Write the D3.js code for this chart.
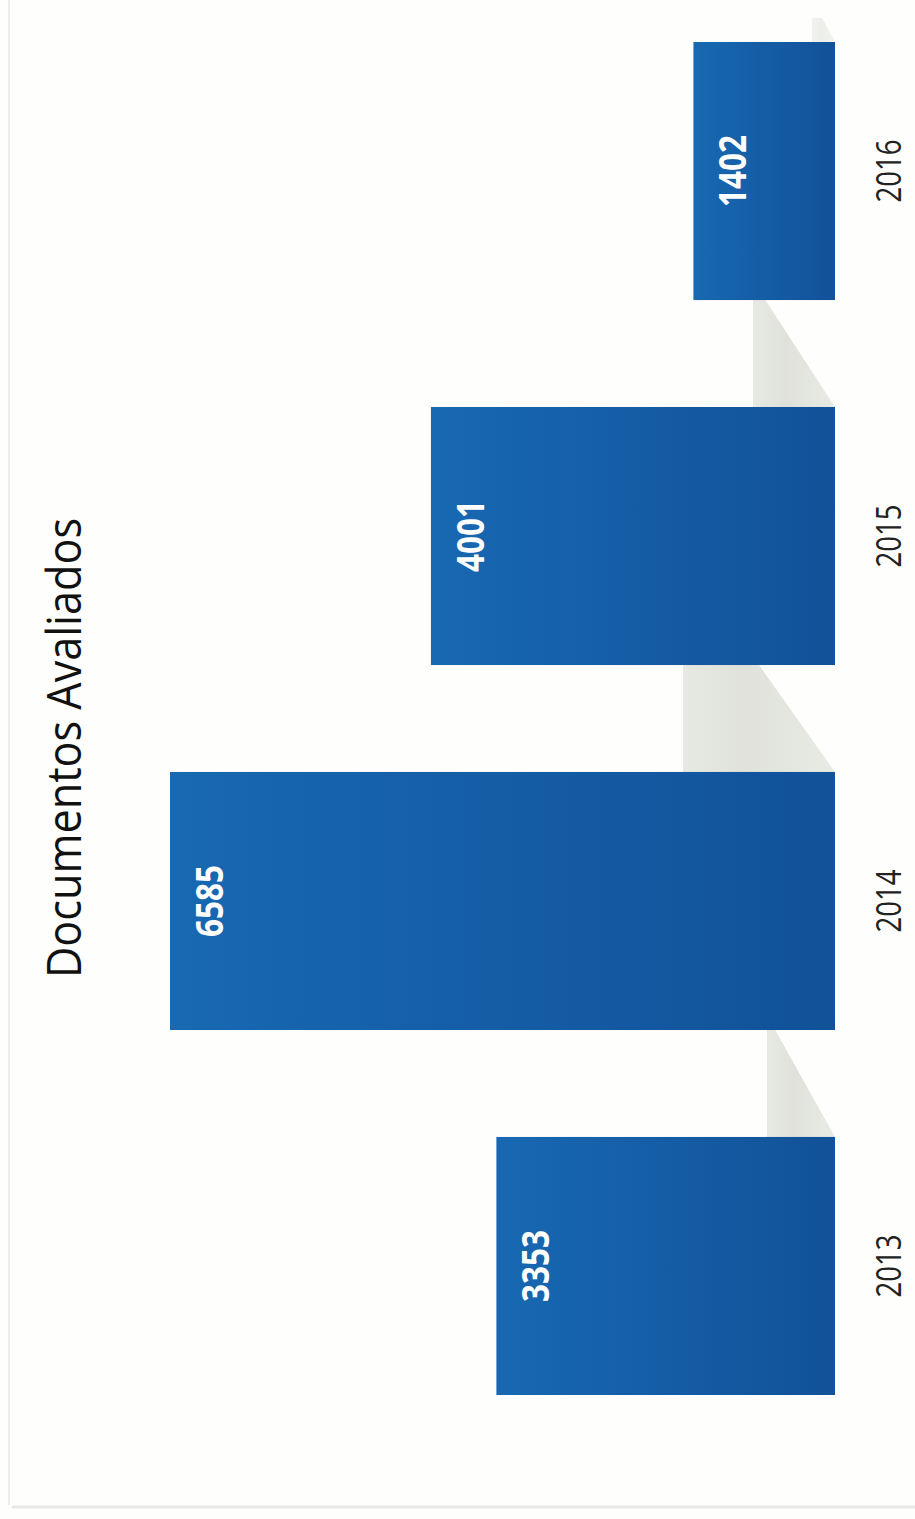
<!DOCTYPE html>
<html>
<head>
<meta charset="utf-8">
<script src="https://cdn.jsdelivr.net/npm/d3@7"></script>
<style>
  body { margin: 0; background: #fff; }
  svg { display: block; }
  .title { font-family: "Open Sans", sans-serif; fill: #111; }
  .cat-label { font-family: "Open Sans", sans-serif; fill: #222; }
  .val-label { font-family: "Open Sans", sans-serif; font-weight: bold; fill: #fff; }
</style>
</head>
<body>
<svg id="chart"></svg>
<script>
// data
const years = ["2013", "2014", "2015", "2016"];
const documentos = [3353, 6585, 4001, 1402];
const chartTitle = "Documentos Avaliados";

const width = 915, height = 1519;

const svg = d3.select('#chart')
    .attr('width', width)
    .attr('height', height);

// scanned page look: faint border lines
svg.append('rect').attr('width', width).attr('height', height).attr('fill', '#fefffc');
svg.append('line')
    .attr('x1', 9).attr('x2', 9).attr('y1', 0).attr('y2', 1505)
    .attr('stroke', '#ececec').attr('stroke-width', 2);
svg.append('line')
    .attr('x1', 12).attr('x2', width).attr('y1', 1507).attr('y2', 1507)
    .attr('stroke', '#e8e8e8').attr('stroke-width', 3);

// the chart is printed rotated: categories run bottom -> top, values run right -> left
const yScale = d3.scaleBand()
    .domain(years)
    .range([1395, 42])
    .paddingInner(0.293)
    .paddingOuter(0);

const xScale = d3.scaleLinear()
    .domain([0, d3.max(documentos)])
    .range([835, 170]);

const data = years.map((y, i) => ({year: y, value: documentos[i]}));

// bar gradient
const defs = svg.append('defs');
const grad = defs.append('linearGradient')
    .attr('id', 'barGrad')
    .attr('x1', '0%').attr('x2', '100%').attr('y1', '0%').attr('y2', '0%');
grad.append('stop').attr('offset', '0%').attr('stop-color', '#1868b2');
grad.append('stop').attr('offset', '100%').attr('stop-color', '#115299');

const shGrad = defs.append('linearGradient')
    .attr('id', 'shGrad')
    .attr('x1', '0%').attr('x2', '100%');
shGrad.append('stop').attr('offset', '0%').attr('stop-color', '#e4e6e0');
shGrad.append('stop').attr('offset', '40%').attr('stop-color', '#dcded7');
shGrad.append('stop').attr('offset', '100%').attr('stop-color', '#e6e8e2');

// grey "shadow" wedges in the gaps above each bar (artefact of the printed 3D style)
const shadowInset = [68, 152, 82, 23];
const shadowTop = [0.12, 0.5, 0.15, 0.45];
const gap = yScale.step() - yScale.bandwidth();
data.forEach((d, i) => {
  const yTop = Math.max(yScale(d.year) - gap, 18);
  const yBot = yScale(d.year);
  const xr = xScale(0);
  const xl = xr - shadowInset[i];
  const xmid = xl + shadowInset[i] * shadowTop[i];
  svg.append('path')
      .attr('d', d3.line()([[xl, yTop], [xmid, yTop], [xr, yBot], [xl, yBot]]) + 'Z')
      .attr('fill', 'url(#shGrad)')
      .attr('opacity', i === 3 ? 0.5 : 0.9);
});

// bars
svg.selectAll('rect.bar')
  .data(data)
  .join('rect')
    .attr('class', 'bar')
    .attr('x', d => xScale(d.value))
    .attr('y', d => yScale(d.year))
    .attr('width', d => xScale(0) - xScale(d.value))
    .attr('height', yScale.bandwidth())
    .attr('fill', 'url(#barGrad)');

// value labels (inside, at the bar end)
svg.selectAll('text.val-label')
  .data(data)
  .join('text')
    .attr('class', 'val-label')
    .attr('transform', d => `translate(${xScale(d.value) + 53},${yScale(d.year) + yScale.bandwidth() / 2}) rotate(-90)`)
    .attr('text-anchor', 'middle')
    .attr('font-size', 38)
    .attr('textLength', 72)
    .attr('lengthAdjust', 'spacingAndGlyphs')
    .text(d => d.value);

// category labels
svg.selectAll('text.cat-label')
  .data(data)
  .join('text')
    .attr('class', 'cat-label')
    .attr('transform', d => `translate(${xScale(0) + 66},${yScale(d.year) + yScale.bandwidth() / 2}) rotate(-90)`)
    .attr('text-anchor', 'middle')
    .attr('font-size', 34)
    .attr('textLength', 63)
    .attr('lengthAdjust', 'spacingAndGlyphs')
    .text(d => d.year);

// title
svg.append('text')
    .attr('class', 'title')
    .attr('transform', 'translate(81,748) rotate(-90)')
    .attr('text-anchor', 'middle')
    .attr('font-size', 47)
    .attr('textLength', 460)
    .attr('lengthAdjust', 'spacingAndGlyphs')
    .text(chartTitle);
</script>
</body>
</html>
